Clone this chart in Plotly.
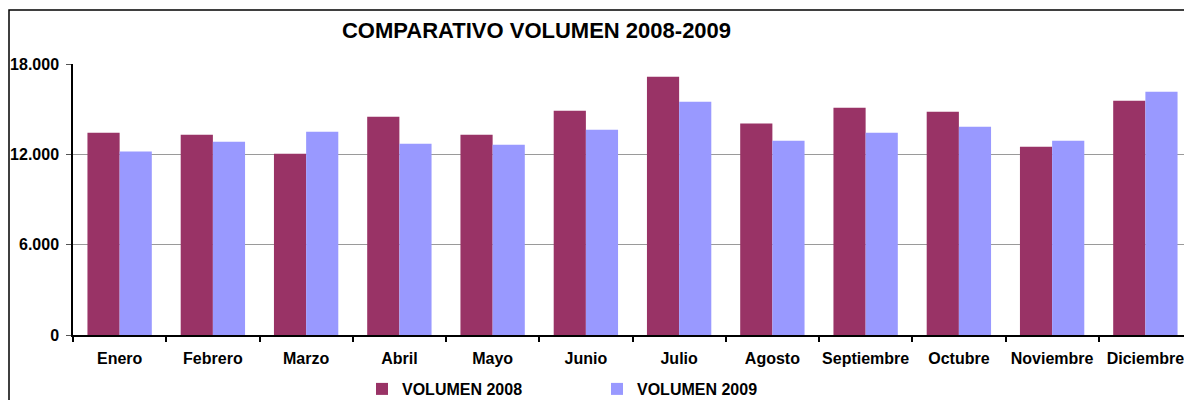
import plotly.graph_objects as go

months = ["Enero", "Febrero", "Marzo", "Abril", "Mayo", "Junio", "Julio",
          "Agosto", "Septiembre", "Octubre", "Noviembre", "Diciembre"]
vol_2008 = [13440, 13300, 12040, 14500, 13300, 14900, 17160, 14040, 15100, 14830, 12510, 15560]
vol_2009 = [12180, 12840, 13500, 12710, 12640, 13640, 15500, 12910, 13440, 13840, 12910, 16160]
series_names = ["VOLUMEN 2008", "VOLUMEN 2009"]
y_tickvals = [0, 6000, 12000, 18000]
y_ticktext = ["0", "6.000", "12.000", "18.000"]
title_text = "COMPARATIVO VOLUMEN 2008-2009"

FONT = "Liberation Sans, Arial, sans-serif"
C08 = "#993366"
C09 = "#9999FF"

# page body has an 8px default margin -> figure occupies (8,8)-(1192,400)
W, H = 1184, 392
L, T, B = 65, 56, 65

fig = go.Figure()
fig.add_trace(go.Bar(x=months, y=vol_2008, name=series_names[0], marker_color=C08,
                     marker_line_width=0))
fig.add_trace(go.Bar(x=months, y=vol_2009, name=series_names[1], marker_color=C09,
                     marker_line_width=0))

fig.update_layout(
    width=W, height=H,
    margin=dict(l=L, r=0, t=T, b=B, pad=0, autoexpand=False),
    paper_bgcolor="white", plot_bgcolor="white",
    barmode="group", bargap=0.31, bargroupgap=0,
    font=dict(family=FONT, size=16, color="black"),
    title=dict(text="<b>" + title_text + "</b>", x=(536.5 - 8) / W, xref="container", xanchor="center",
               y=1 - 22 / H, yref="container", yanchor="middle",
               font=dict(family=FONT, size=22, color="black")),
    showlegend=True,
    legend=dict(orientation="h", x=354 / W, xref="container", xanchor="left",
                y=1 - 364 / H, yref="container", yanchor="top",
                font=dict(family=FONT, size=16, color="black", weight="bold"),
                entrywidth=190, entrywidthmode="pixels",
                bgcolor="rgba(0,0,0,0)", itemwidth=30,
                traceorder="normal"),
)

fig.update_xaxes(
    type="category", showline=True, linecolor="black", linewidth=2,
    ticks="outside", tickson="boundaries", ticklen=5, tickcolor="black", tickwidth=1.5,
    tickangle=0,
    tickfont=dict(family=FONT, size=16, color="black", weight="bold"),
    ticklabelstandoff=8, showgrid=False, zeroline=False,
)
fig.update_yaxes(
    range=[0, 18000], tickvals=y_tickvals, ticktext=y_ticktext,
    showline=True, linecolor="black", linewidth=1.5,
    ticks="outside", ticklen=5, tickcolor="#555555", tickwidth=1,
    tickfont=dict(family=FONT, size=16, color="black", weight="bold"),
    ticklabelstandoff=4,
    showgrid=True, gridcolor="#9a9a9a", gridwidth=1, zeroline=False,
)

# outer chart frame (cropped on right/bottom in reference)
plot_h = H - T - B
plot_w = W - L
fig.add_shape(type="rect", xref="paper", yref="paper",
              x0=(1 - L) / plot_w, x1=1.02, y0=-0.3, y1=(H - B - 2) / plot_h,
              line=dict(color="black", width=1.5), fillcolor="rgba(0,0,0,0)", layer="above")

fig.write_html("out.html")
